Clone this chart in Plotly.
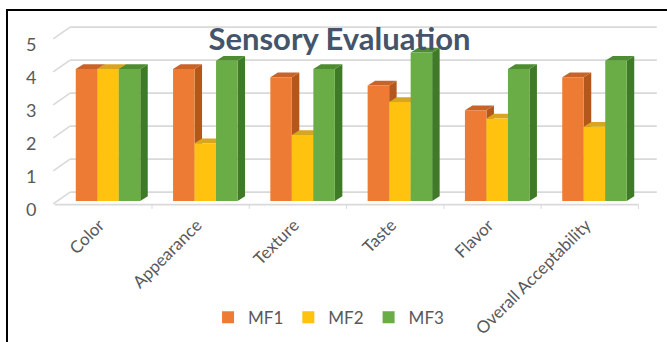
import plotly.graph_objects as go

# ---------------- data ----------------
categories = ["Color", "Appearance", "Texture", "Taste", "Flavor", "Overall Acceptability"]
series_names = ["MF1", "MF2", "MF3"]
mf1 = [4.0, 4.0, 3.75, 3.5, 2.75, 3.75]
mf2 = [4.0, 1.75, 2.0, 3.0, 2.5, 2.25]
mf3 = [4.0, 4.25, 4.0, 4.5, 4.0, 4.25]
y_ticks = [0, 1, 2, 3, 4, 5]

# ---------------- styles ----------------
front_colors = ["#EE7B33", "#FFC20E", "#6AAC45"]
side_colors = ["#B5561B", "#C79A0C", "#3F7A27"]
top_colors = ["#C8632A", "#D8A61E", "#4E8C32"]
grid_color = "#D9D9D9"
text_color = "#595959"
font_family = "Lato"

# 3D geometry (in axis units)
BAR_W = 0.221            # width of one bar
DDX, DDY = 0.077, 0.142  # bar depth offset
FRONT_DX, FRONT_DY = -0.048, -0.11  # front floor plane offset
BACK_X0, BACK_X1, BACK_DY = -0.39, 5.64, 0.27  # back wall
LABEL_DY = -0.26
XLABEL_DX = -0.04

series = [mf1, mf2, mf3]
n = len(categories)
xs = list(range(n))

fig = go.Figure()
shapes = []

def seg(x0, y0, x1, y1, color=grid_color, width=1.6):
    return dict(type="line", xref="x", yref="y", x0=x0, y0=y0, x1=x1, y1=y1,
                line=dict(color=color, width=width), layer="below")

# back wall gridlines and side wall diagonals
for v in y_ticks:
    shapes.append(seg(BACK_X0, v + BACK_DY, BACK_X1, v + BACK_DY))
    shapes.append(seg(-0.5 + FRONT_DX - 0.015, v + FRONT_DY + 0.02, BACK_X0, v + BACK_DY))
# floor front edge and category ticks
shapes.append(seg(-0.5 + FRONT_DX, FRONT_DY, n - 0.5 + FRONT_DX, FRONT_DY))
for k in range(1, n + 1):
    shapes.append(seg(k - 0.5 + FRONT_DX, FRONT_DY, k - 0.5 + FRONT_DX, FRONT_DY - 0.13, width=1))

def poly(pts, color):
    d = "M " + " L ".join(f"{px:.4f},{py:.4f}" for px, py in pts) + " Z"
    return dict(type="path", xref="x", yref="y", path=d, fillcolor=color,
                line=dict(width=0), layer="below")

for i in xs:
    for k, vals in enumerate(series):
        v = vals[i]
        x0 = i - 1.5 * BAR_W + k * BAR_W
        x1 = x0 + BAR_W
        # right side face
        shapes.append(poly([(x1, 0), (x1 + DDX, DDY), (x1 + DDX, v + DDY), (x1, v)], side_colors[k]))
        # top face
        shapes.append(poly([(x0, v), (x1, v), (x1 + DDX, v + DDY), (x0 + DDX, v + DDY)], top_colors[k]))

for k, vals in enumerate(series):
    fig.add_trace(go.Bar(
        x=xs, y=vals, name=series_names[k], width=BAR_W,
        offset=-1.5 * BAR_W + k * BAR_W,
        marker=dict(color=front_colors[k], line=dict(width=0)),
    ))

# frame lines (top and left) of the figure
shapes.append(dict(type="line", xref="paper", yref="paper", x0=-0.0613, y0=1.0256, x1=1.01, y1=1.0256,
                   line=dict(color="black", width=2)))
shapes.append(dict(type="line", xref="paper", yref="paper", x0=-0.0613, y0=1.031, x1=-0.0613, y1=-0.7,
                   line=dict(color="black", width=2)))

fig.update_layout(
    width=667, height=342,
    margin=dict(l=45, r=2, t=15, b=131, autoexpand=False),
    paper_bgcolor="white", plot_bgcolor="rgba(0,0,0,0)",
    barmode="overlay",
    showlegend=True,
    shapes=shapes,
    font=dict(family=font_family, color=text_color, size=17),
    title=dict(text="<b>Sensory Evaluation</b>", x=0.509, xref="container", xanchor="center",
               y=0.885, yref="container", yanchor="middle",
               font=dict(family=font_family, size=31, color="#44546A")),
    legend=dict(orientation="h", x=0.263, xanchor="left", y=-0.545, yanchor="middle",
                font=dict(size=17, color=text_color), bgcolor="rgba(0,0,0,0)",
                traceorder="normal"),
    xaxis=dict(range=[-0.6475, 5.7246], tickmode="array",
               tickvals=[i + FRONT_DX + XLABEL_DX for i in xs], ticktext=categories,
               tickangle=-45, ticks="",
               showgrid=False, zeroline=False, showline=False, automargin=False,
               tickfont=dict(size=17, color=text_color)),
    yaxis=dict(range=[-0.303, 5.636], tickmode="array",
               tickvals=[v + LABEL_DY for v in y_ticks], ticktext=[str(v) for v in y_ticks],
               ticks="outside", ticklen=4, tickcolor="rgba(0,0,0,0)",
               showgrid=False, zeroline=False, showline=False, automargin=False,
               tickfont=dict(size=18, color=text_color)),
)

fig.write_html("out.html")
